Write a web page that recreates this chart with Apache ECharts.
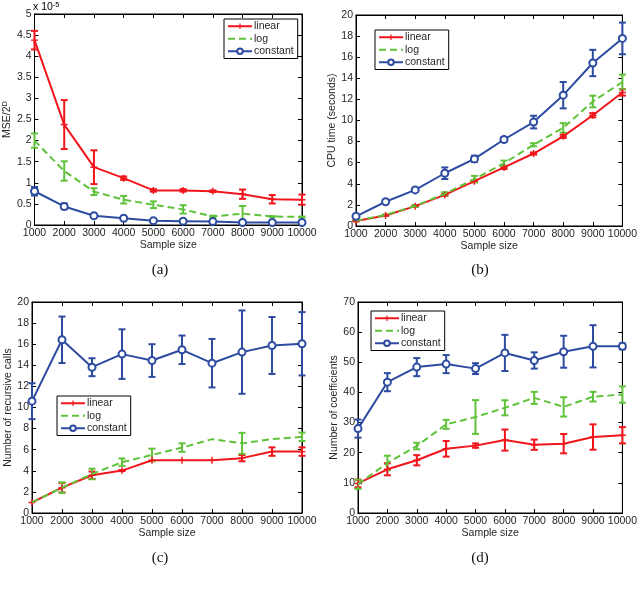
<!DOCTYPE html>
<html>
<head>
<meta charset="utf-8">
<script src="https://cdn.jsdelivr.net/npm/echarts@6/dist/echarts.min.js"></script>
<style>html,body{margin:0;padding:0;background:#fff}#c{width:640px;height:589px}</style>
</head>
<body>
<div id="c"></div>
<script>
// ---- data ----
const sampleSizes = [1000,2000,3000,4000,5000,6000,7000,8000,9000,10000];
const seriesNames = ['linear','log','constant'];

// (a) MSE/2^D  (x 10^-5)
const mseLinear    = [4.38,2.38,1.37,1.11,0.82,0.82,0.80,0.73,0.61,0.60];
const mseLinearErr = [0.22,0.58,0.40,0.04,0.03,0.03,0.02,0.11,0.10,0.12];
const mseLog       = [2.00,1.28,0.79,0.60,0.48,0.37,0.20,0.27,0.20,0.19];
const mseLogErr    = [0.17,0.23,0.08,0.09,0.08,0.10,0.02,0.18,0.01,0.01];
const mseConst     = [0.80,0.44,0.22,0.16,0.10,0.09,0.08,0.06,0.06,0.06];
const mseConstErr  = [0.10,0.07,0.02,0.02,0.01,0.01,0.01,0.01,0.01,0.01];

// (b) CPU time (seconds)
const cpuLinear    = [0.48,1.00,1.88,2.95,4.25,5.55,6.87,8.50,10.50,12.66];
const cpuLinearErr = [0.05,0.05,0.05,0.10,0.10,0.15,0.10,0.15,0.20,0.30];
const cpuLog       = [0.50,1.05,1.90,3.05,4.45,5.95,7.70,9.30,11.80,13.65];
const cpuLogErr    = [0.05,0.05,0.10,0.15,0.30,0.25,0.15,0.45,0.55,0.70];
const cpuConst     = [0.92,2.30,3.42,5.00,6.36,8.20,9.85,12.40,15.45,17.78];
const cpuConstErr  = [0.10,0.12,0.12,0.55,0.30,0.20,0.60,1.25,1.25,1.50];

// (c) Number of recursive calls
const recLinear    = [1.00,2.40,3.58,4.02,5.00,5.00,5.00,5.20,5.82,5.82];
const recLinearErr = [0,0.45,0.35,0.05,0,0,0,0.30,0.40,0.40];
const recLog       = [1.00,2.40,3.70,4.82,5.50,6.20,7.00,6.60,7.00,7.22];
const recLogErr    = [0,0.50,0.50,0.35,0.60,0.40,0,1.00,0,0.40];
const recConst     = [10.60,16.42,13.82,15.06,14.45,15.47,14.20,15.25,15.88,16.04];
const recConstErr  = [1.70,2.20,0.85,2.35,1.55,1.35,2.30,3.95,2.70,3.00];

// (d) Number of coefficients
const coefLinear    = [9.8,14.5,17.5,21.3,22.35,24.2,22.65,23.0,25.2,25.8];
const coefLinearErr = [1.3,2.0,1.7,2.6,0.7,3.5,1.7,3.2,4.2,2.7];
const coefLog       = [9.5,16.6,22.2,29.4,31.85,34.9,38.2,35.2,38.6,39.3];
const coefLogErr    = [1.5,2.4,1.1,1.5,5.6,2.5,2.0,3.2,1.6,2.7];
const coefConst     = [28.0,43.4,48.4,49.4,47.9,53.1,50.6,53.5,55.3,55.3];
const coefConstErr  = [3.0,3.0,3.0,3.0,1.8,6.0,2.7,5.3,7.0,1.0];

const yTitles = ['MSE/2^D','CPU time (seconds)','Number of recursive calls','Number of coefficients'];
const yMax = [5,20,20,70];
const yStep = [0.5,2,2,10];
const captions = ['(a)','(b)','(c)','(d)'];

// ---- layout / style ----
const COLORS = ['#f0161c','#5fc23a','#2d4ba0'];
const FONT = 'Liberation Sans';
const FS = 10.5;
const TXT = '#262626';
const grids = [
  {left:32, top:14, width:270, height:211},
  {left:356, top:15, width:270, height:211},
  {left:32, top:302, width:270, height:211},
  {left:358, top:302, width:268, height:211}
];
const legendPos = [
  {left:224, top:19},{left:375, top:30},{left:57, top:396},{left:371, top:311}
];
const yNameGap = [17,10,11,14];

const panels = [
  [[mseLinear,mseLinearErr],[mseLog,mseLogErr],[mseConst,mseConstErr]],
  [[cpuLinear,cpuLinearErr],[cpuLog,cpuLogErr],[cpuConst,cpuConstErr]],
  [[recLinear,recLinearErr],[recLog,recLogErr],[recConst,recConstErr]],
  [[coefLinear,coefLinearErr],[coefLog,coefLogErr],[coefConst,coefConstErr]]
];

const plusPath = 'path://M4,0H6V4H10V6H6V10H4V6H0V4H4Z';

const xAxis = [], yAxis = [], series = [], legend = [];
panels.forEach((panel, i) => {
  const axisCommon = {
    axisLine:{show:true, onZero:false, lineStyle:{color:'#000', width:1}},
    axisTick:{show:true, inside:true, length:4, lineStyle:{color:'#000'}},
    splitLine:{show:false}
  };
  xAxis.push(Object.assign({
    type:'value', gridIndex:i, position:'bottom', min:1000, max:10000, interval:1000,
    name:'Sample size', nameLocation:'middle', nameGap:15,
    nameTextStyle:{fontFamily:FONT, fontSize:FS, color:TXT},
    axisLabel:{fontFamily:FONT, fontSize:FS, color:TXT, margin:3, showMinLabel:true, showMaxLabel:true,
      formatter: v => String(v)}
  }, axisCommon));
  xAxis.push(Object.assign({
    type:'value', gridIndex:i, position:'top', min:1000, max:10000, interval:1000,
    axisLabel:{show:false}
  }, axisCommon));
  let yName = yTitles[i];
  let nameRich = undefined;
  if (i === 0) {
    yName = '{n|MSE/2}{s|D}';
    nameRich = {n:{fontFamily:FONT, fontSize:FS, color:TXT}, s:{fontFamily:FONT, fontSize:7.5, color:TXT, verticalAlign:'top', lineHeight:13}};
  }
  yAxis.push(Object.assign({
    type:'value', gridIndex:i, position:'left', min:0, max:yMax[i], interval:yStep[i],
    name:yName, nameLocation:'middle', nameGap:yNameGap[i],
    nameTextStyle:{fontFamily:FONT, fontSize:FS, color:TXT, rich:nameRich},
    axisLabel:{fontFamily:FONT, fontSize:FS, color:TXT, margin:3}
  }, axisCommon));
  yAxis.push(Object.assign({
    type:'value', gridIndex:i, position:'right', min:0, max:yMax[i], interval:yStep[i],
    axisLabel:{show:false}
  }, axisCommon));

  panel.forEach((pair, k) => {
    const vals = pair[0], errs = pair[1];
    const color = COLORS[k];
    // error bars
    series.push({
      type:'custom', name:seriesNames[k]+'-err', xAxisIndex:2*i, yAxisIndex:2*i,
      z: 2 + k,
      data: sampleSizes.map((x, j) => [x, vals[j] - errs[j], vals[j] + errs[j]]),
      renderItem: function (params, api) {
        const x = api.value(0), lo = api.value(1), hi = api.value(2);
        if (hi - lo < 1e-9) return null;
        const p1 = api.coord([x, hi]), p2 = api.coord([x, lo]);
        const w = 3.5;
        const st = {stroke: color, lineWidth: 2, fill: null};
        return {type:'group', children:[
          {type:'line', shape:{x1:p1[0], y1:p1[1], x2:p2[0], y2:p2[1]}, style:st},
          {type:'line', shape:{x1:p1[0]-w, y1:p1[1], x2:p1[0]+w, y2:p1[1]}, style:st},
          {type:'line', shape:{x1:p2[0]-w, y1:p2[1], x2:p2[0]+w, y2:p2[1]}, style:st}
        ]};
      },
      silent:true
    });
    const s = {
      type:'line', name:seriesNames[k], xAxisIndex:2*i, yAxisIndex:2*i,
      z: 3 + k,
      data: sampleSizes.map((x, j) => [x, vals[j]]),
      color: color,
      lineStyle:{color:color, width:2},
      animation:false
    };
    if (k === 0) { s.symbol = plusPath; s.symbolSize = 7; s.itemStyle = {color:color}; }
    else if (k === 1) { s.symbol = 'none'; s.lineStyle.type = [7,4]; s.itemStyle = {color:color}; }
    else { s.symbol = 'emptyCircle'; s.symbolSize = 7; s.itemStyle = {color:color, borderColor:color, borderWidth:2}; }
    series.push(s);
  });

  legend.push({
    left: legendPos[i].left, top: legendPos[i].top,
    orient:'vertical',
    data: [
      {name:'linear'},
      {name:'log', itemStyle:{opacity:0}},
      {name:'constant', itemStyle:{borderWidth:1}}
    ],
    itemWidth: 24, itemHeight: 7, itemGap: 0,
    padding:[1,4,1,3],
    borderColor:'#000', borderWidth:1, backgroundColor:'#fff',
    textStyle:{fontFamily:FONT, fontSize:FS, color:TXT, padding:[0,0,0,-3], lineHeight:12.5},
    selectedMode:false
  });
});

const graphic = [
  {type:'text', left:33, top:1, style:{text:'{a|x 10}{b|-5}', rich:{a:{fontFamily:FONT, fontSize:FS, color:TXT}, b:{fontFamily:FONT, fontSize:7.5, color:TXT, verticalAlign:'top', lineHeight:12}}}}
];
const capPos = [[160,270],[480,270],[160,558],[480,558]];
captions.forEach((c, i) => {
  graphic.push({type:'text', x:capPos[i][0], y:capPos[i][1],
    style:{text:c, fontFamily:'Liberation Serif', fontSize:15, fill:'#111', textAlign:'center', textVerticalAlign:'middle'}});
});

const chart = echarts.init(document.getElementById('c'), null, {renderer:'canvas'});
chart.setOption({
  backgroundColor:'#fff',
  animation:false,
  grid: grids.map(g => Object.assign({show:true, borderColor:'#000', borderWidth:1, backgroundColor:'#fff', containLabel:false}, g)),
  xAxis, yAxis, series, legend, graphic
});
</script>
</body>
</html>
